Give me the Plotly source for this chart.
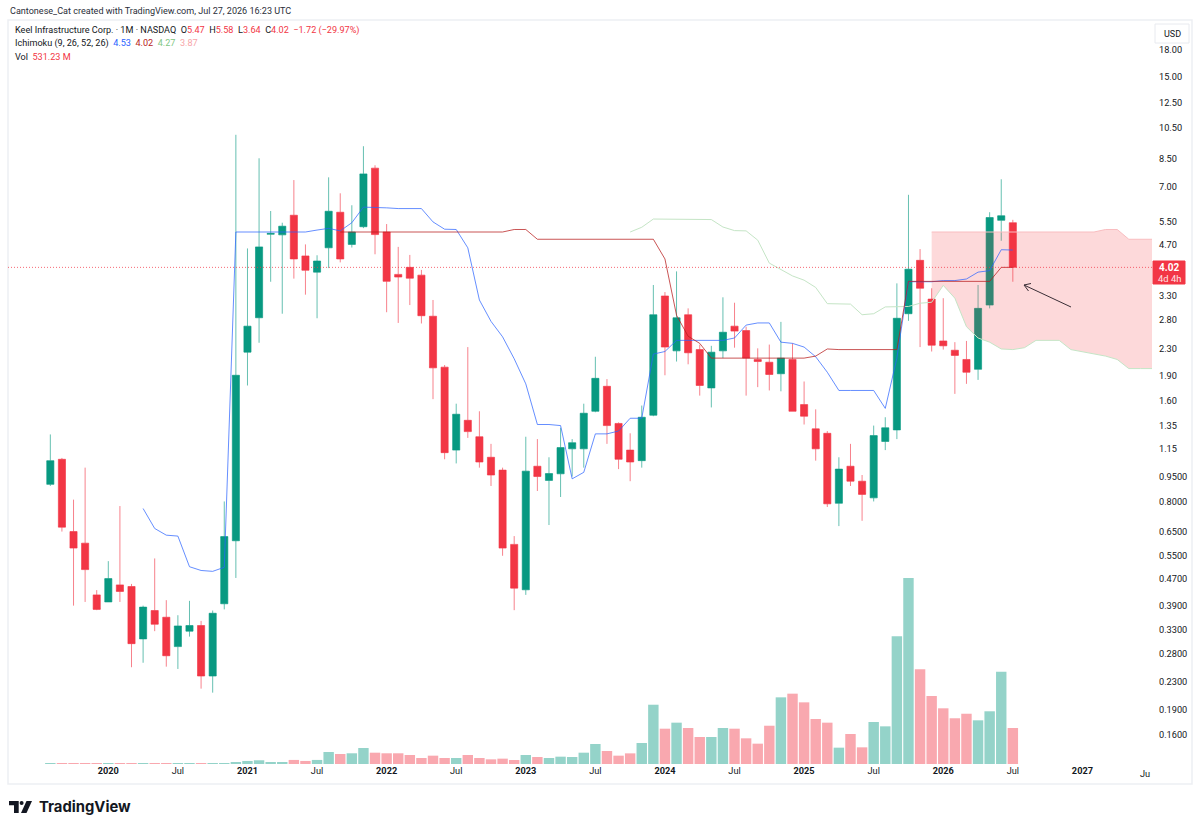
import pandas as pd
import plotly.graph_objects as go

# Monthly OHLC, Aug 2019 to Jul 2026
opens = [0.90, 1.07, 0.65, 0.60, 0.42, 0.40, 0.45, 0.445, 0.31, 0.377, 0.36, 0.294,
         0.327, 0.34, 0.24, 0.395, 0.61, 2.24, 2.84, 5.05, 5.03, 5.76, 4.35, 3.89,
         4.60, 5.88, 4.71, 5.32, 7.97, 5.13, 3.83, 4.02, 3.81, 2.87, 2.02, 1.14,
         1.40, 1.25, 1.085, 0.993, 0.595, 0.435, 1.02, 0.925, 0.968, 1.15, 1.15, 1.49,
         1.77, 1.37, 1.14, 1.06, 1.45, 3.30, 2.26, 2.90, 2.28, 1.75, 2.26, 2.68,
         2.60, 2.13, 2.09, 1.93, 2.13, 1.56, 1.32, 1.28, 0.79, 1.02, 0.92, 0.82,
         1.21, 1.31, 2.92, 4.22, 3.23, 2.42, 2.27, 2.13, 1.99, 3.10, 5.56, 5.47]
highs = [1.27, 1.08, 0.81, 1.01, 0.434, 0.53, 0.775, 0.453, 0.39, 0.54, 0.405, 0.365,
         0.403, 0.351, 0.377, 0.80, 10.03, 4.58, 8.53, 5.93, 5.47, 7.34, 4.71, 4.37,
         7.48, 6.70, 6.17, 9.27, 8.13, 5.42, 4.63, 4.38, 3.95, 3.21, 2.05, 1.57,
         2.32, 1.49, 1.19, 1.01, 0.63, 1.25, 1.23, 1.085, 1.33, 1.23, 1.57, 2.17,
         1.86, 1.38, 1.28, 1.55, 3.56, 3.39, 3.91, 3.03, 2.36, 2.34, 3.27, 3.15,
         2.67, 2.30, 2.36, 2.76, 2.38, 1.83, 1.51, 1.30, 1.085, 1.19, 0.96, 1.35,
         1.43, 3.60, 6.63, 4.56, 3.48, 3.25, 2.40, 2.42, 3.56, 5.88, 7.38, 5.58]
lows = [0.89, 0.65, 0.39, 0.40, 0.378, 0.40, 0.40, 0.255, 0.263, 0.327, 0.256, 0.252,
        0.315, 0.22, 0.214, 0.38, 0.472, 1.78, 2.39, 3.64, 2.92, 3.72, 3.33, 2.83,
        4.00, 4.16, 4.61, 5.27, 4.40, 2.95, 2.74, 3.10, 2.73, 1.62, 1.07, 1.04,
        1.24, 1.01, 0.89, 0.55, 0.378, 0.42, 0.86, 0.68, 0.825, 0.95, 1.01, 1.48,
        1.19, 1.00, 0.92, 1.01, 1.44, 1.91, 2.10, 2.06, 1.66, 1.53, 2.15, 2.31,
        1.66, 1.76, 1.72, 1.71, 1.49, 1.36, 1.06, 0.77, 0.675, 0.89, 0.70, 0.80,
        1.14, 1.23, 2.78, 2.32, 2.25, 2.28, 1.68, 1.80, 1.85, 3.03, 4.83, 3.64]
closes = [1.06, 0.67, 0.58, 0.50, 0.38, 0.47, 0.43, 0.30, 0.386, 0.343, 0.276, 0.339,
          0.34, 0.24, 0.37, 0.628, 1.91, 2.68, 4.63, 5.08, 5.34, 4.26, 3.94, 4.20,
          5.92, 4.26, 5.13, 7.66, 5.04, 3.65, 3.76, 3.73, 2.88, 2.01, 1.12, 1.46,
          1.295, 1.05, 0.96, 0.58, 0.44, 0.986, 0.95, 0.97, 1.16, 1.20, 1.47, 1.87,
          1.35, 1.07, 1.05, 1.43, 2.90, 2.32, 2.84, 2.23, 1.78, 2.24, 2.57, 2.59,
          2.15, 2.10, 1.92, 2.15, 1.49, 1.44, 1.15, 0.787, 1.00, 0.92, 0.84, 1.26,
          1.33, 2.83, 3.97, 3.48, 2.35, 2.34, 2.19, 1.95, 3.03, 5.67, 5.74, 4.02]

# Monthly volume, millions of shares
volumes = [10, 10, 10, 10, 10, 10, 10, 10, 10, 10, 10, 10,
           10, 10, 10, 10, 30, 45, 55, 30, 30, 60, 45, 60,
           177, 148, 158, 236, 167, 158, 158, 133, 89, 123, 89, 89,
           133, 89, 69, 79, 59, 133, 103, 89, 108, 103, 167, 295,
           192, 123, 157, 310, 875, 521, 610, 531, 399, 399, 531, 521,
           379, 300, 565, 984, 1038, 910, 664, 610, 241, 443, 246, 620,
           556, 1885, 2745, 1398, 1004, 822, 675, 742, 645, 778, 1362, 531.23]

# Ichimoku lines; the leading spans run past the last candle
conversion_start = 8
conversion = [0.762, 0.664, 0.634, 0.63, 0.51, 0.497, 0.494, 0.508, 5.13, 5.13, 5.13, 5.13,
              5.13, 5.13, 5.13, 5.20, 5.26, 5.17, 5.47, 6.09, 6.09, 6.06, 6.03, 6.03,
              6.03, 5.50, 5.23, 5.22, 4.60, 3.21, 2.77, 2.49, 2.14, 1.80, 1.36, 1.36,
              1.35, 0.935, 0.978, 1.275, 1.275, 1.30, 1.42, 1.42, 2.21, 2.25, 2.43, 2.43,
              2.43, 2.43, 2.43, 2.47, 2.70, 2.74, 2.74, 2.40, 2.38, 2.32, 2.17, 1.95,
              1.72, 1.72, 1.72, 1.72, 1.52, 2.15, 3.64, 3.64, 3.64, 3.67, 3.67, 3.71,
              3.89, 3.93, 4.54, 4.53]
base_start = 25
base = [5.13, 5.13, 5.13, 5.13, 5.13, 5.13, 5.13, 5.13, 5.13, 5.13, 5.13, 5.13, 5.13, 5.13, 5.13,
        5.22, 5.22, 4.88, 4.88, 4.88, 4.88, 4.88, 4.88, 4.88, 4.88, 4.88, 4.88, 4.88,
        4.26, 2.89, 2.50, 2.38, 2.15, 2.15, 2.15, 2.15, 2.15, 2.15, 2.15, 2.15, 2.15,
        2.18, 2.29, 2.28, 2.28, 2.28, 2.28, 2.28, 2.28,
        3.65, 3.65, 3.65, 3.65, 3.65, 3.65, 3.65, 3.65, 4.02, 4.02]
span_a_start = 50
span_a = [5.13, 5.30, 5.61, 5.61, 5.61, 5.61, 5.61, 5.59, 5.31, 5.18, 5.17, 4.85,
          4.14, 3.95, 3.79, 3.68, 3.50, 3.13, 3.12, 3.12, 2.90, 2.92, 3.06, 3.06,
          3.07, 3.14, 3.16, 3.55, 3.25, 2.67, 2.47, 2.40, 2.29, 2.28, 2.31, 2.43,
          2.43, 2.43, 2.28, 2.25, 2.21, 2.18, 2.13, 2.00, 2.00, 2.00]
span_b_start = 76
span_b = [5.13, 5.13, 5.13, 5.13, 5.13, 5.13, 5.13, 5.13, 5.13, 5.13, 5.13, 5.13, 5.13, 5.13, 5.13,
          5.22, 5.22, 4.88, 4.88, 4.88]

# Axis labels
price_ticks = [18, 15, 12.5, 10.5, 8.5, 7, 5.5, 4.7, 3.3, 2.8, 2.3, 1.9, 1.6, 1.35, 1.15,
               0.95, 0.8, 0.65, 0.55, 0.47, 0.39, 0.33, 0.28, 0.23, 0.19, 0.16]
price_labels = ["18.00", "15.00", "12.50", "10.50", "8.50", "7.00", "5.50", "4.70", "3.30",
                "2.80", "2.30", "1.90", "1.60", "1.35", "1.15", "0.9500", "0.8000", "0.6500",
                "0.5500", "0.4700", "0.3900", "0.3300", "0.2800", "0.2300", "0.1900", "0.1600"]
last_close = 4.02

UP = "#089981"
DOWN = "#F23645"
INK = "#131722"
FONT = "Roboto"

months = [str(p) for p in pd.period_range("2019-08", "2027-07", freq="M")]
candle_months = months[:len(closes)]
time_ticks = []
time_labels = []
for m in months:
    year, month = m.split("-")
    if month == "01":
        time_ticks.append(m)
        time_labels.append(f"<b>{year}</b>")
    elif month == "07" and m != months[-1]:
        time_ticks.append(m)
        time_labels.append("Jul")

# Pixel frame of the plot pane
W, H = 1200, 830
L, R, T, B = 8, 1152, 20, 764


def px(x):
    return (x - L) / (R - L)


def py(y):
    return (B - y) / (B - T)


fig = go.Figure()

fig.add_trace(go.Bar(
    x=candle_months, y=volumes, yaxis="y",
    marker=dict(color=[UP if c >= o else DOWN for o, c in zip(opens, closes)],
                opacity=0.43, line_width=0),
    showlegend=False,
))

fig.add_trace(go.Candlestick(
    x=candle_months, open=opens, high=highs, low=lows, close=closes, yaxis="y2",
    increasing=dict(fillcolor=UP, line=dict(color="rgba(8,153,129,0.62)", width=1)),
    decreasing=dict(fillcolor=DOWN, line=dict(color="rgba(242,54,69,0.62)", width=1)),
    whiskerwidth=0, showlegend=False,
))


def line_trace(start, values, color, width=1.0):
    return go.Scatter(x=months[start:start + len(values)], y=values, yaxis="y2", mode="lines",
                      line=dict(color=color, width=width), showlegend=False)


# Cloud band between the two leading spans, over the candles
offset = span_b_start - span_a_start
fig.add_trace(go.Scatter(x=months[span_b_start:span_b_start + len(span_b)], y=span_a[offset:],
                         yaxis="y2", mode="lines", line=dict(width=0), showlegend=False))
fig.add_trace(go.Scatter(x=months[span_b_start:span_b_start + len(span_b)], y=span_b,
                         yaxis="y2", mode="lines", line=dict(width=0), fill="tonexty",
                         fillcolor="rgba(242,54,60,0.19)", showlegend=False))
fig.add_trace(line_trace(span_a_start, span_a, "#C5E5C6"))
fig.add_trace(line_trace(span_b_start, span_b, "#F9BDC0"))
fig.add_trace(line_trace(conversion_start, conversion, "rgba(41,98,255,0.72)"))
fig.add_trace(line_trace(base_start, base, "rgba(183,28,28,0.75)"))

shapes = [
    # Last price line
    dict(type="line", xref="paper", yref="y2", x0=0, x1=1, y0=last_close, y1=last_close,
         line=dict(color="rgba(242,54,69,0.75)", width=1, dash="1px,2px")),
    # Pane frame
    dict(type="rect", xref="paper", yref="paper", x0=px(8), x1=px(1192), y0=py(20), y1=py(784),
         line=dict(color="#EDEFF3", width=1.5), layer="below"),
    # Hand-drawn arrow
    dict(type="path", xref="paper", yref="paper",
         path=(f"M {px(1071)} {py(307)} L {px(1024)} {py(285)} "
               f"M {px(1031)} {py(283.5)} L {px(1024)} {py(285)} L {px(1028.5)} {py(291)}"),
         line=dict(color="#3A2E36", width=1)),
    # Last price tag
    dict(type="rect", xref="paper", yref="paper", x0=px(1153), x1=px(1185), y0=py(261), y1=py(284),
         line=dict(color=DOWN, width=1), fillcolor=DOWN),
    # Currency button
    dict(type="rect", xref="paper", yref="paper", x0=px(1155), x1=px(1189), y0=py(24), y1=py(43),
         line=dict(color="#E8EAEF", width=1), fillcolor="white"),
    # Footer mark
    dict(type="path", xref="paper", yref="paper",
         path=(f"M {px(9)} {py(801)} L {px(18.7)} {py(801)} L {px(18.7)} {py(813)} L {px(14)} {py(813)} "
               f"L {px(14)} {py(805.3)} L {px(9)} {py(805.3)} Z"),
         fillcolor=INK, line_width=0),
    dict(type="circle", xref="paper", yref="paper", x0=px(19.6), x1=px(23.6), y0=py(801), y1=py(805),
         fillcolor=INK, line_width=0),
    dict(type="path", xref="paper", yref="paper",
         path=(f"M {px(26.5)} {py(801)} L {px(32)} {py(801)} L {px(26.5)} {py(813)} L {px(21)} {py(813)} Z"),
         fillcolor=INK, line_width=0),
]


def note(x, y, text, size=9.1, color=INK, anchor="left", family=FONT):
    return dict(xref="paper", yref="paper", x=px(x), y=py(y), text=text, showarrow=False,
                xanchor=anchor, yanchor="middle", align=anchor,
                font=dict(size=size, color=color, family=family))


def colored(text, color):
    return f'<span style="color:{color}">{text}</span>'


ohlc_line = ("Keel Infrastructure Corp. · 1M · NASDAQ  "
             f"O{colored('5.47', DOWN)}  H{colored('5.58', DOWN)}  "
             f"L{colored('3.64', DOWN)}  C{colored('4.02', DOWN)}  "
             + colored("−1.72 (−29.97%)", DOWN))
ichimoku_line = ("Ichimoku (9, 26, 52, 26)  " + colored("4.53", "#2962FF") + "  "
                 + colored("4.02", "#B71C1C") + "  " + colored("4.27", "#81C784") + "  "
                 + colored("3.87", "#F7A5A9"))
vol_line = "Vol  " + colored("531.23 M", DOWN)

annotations = [
    note(7.5, 11, "Cantonese_Cat created with TradingView.com, Jul 27, 2026 16:23 UTC", size=9.05, color="#2A2E39"),
    note(13, 31, ohlc_line),
    note(13, 44, ichimoku_line),
    note(13, 57, vol_line),
    note(1172, 33.5, "USD", size=9, anchor="center"),
    note(1168.5, 267.5, "<b>4.02</b>", size=10, color="white", anchor="center"),
    note(1169.5, 278, "4d 4h", size=9.4, color="#FFE3E5", anchor="center"),
    note(1151.5, 773.5, "Ju", size=9.2, anchor="right"),
    note(37, 807, "<b>TradingView</b>", size=14.8, family="Inter"),
]

fig.update_layout(
    width=W, height=H, autosize=False,
    paper_bgcolor="white", plot_bgcolor="white",
    margin=dict(l=L, r=W - R, t=T, b=H - B),
    boxgap=0.12, bargap=0.1,
    showlegend=False,
    hovermode=False,
    font=dict(family=FONT, size=9, color=INK),
    xaxis=dict(type="category", categoryorder="array", categoryarray=months,
               range=[-3.65, 95.0], rangeslider=dict(visible=False), showgrid=False,
               zeroline=False, showline=False, ticks="", tickmode="array",
               tickvals=time_ticks, ticktext=time_labels, tickangle=0,
               tickfont=dict(size=9.2, color=INK, family=FONT)),
    yaxis=dict(range=[0, 10981], visible=False, fixedrange=True),
    yaxis2=dict(type="log", overlaying="y", side="right", anchor="x",
                range=[-0.88329, 1.34513], showgrid=False, zeroline=False, showline=False,
                ticks="", tickmode="array", tickvals=price_ticks, ticktext=price_labels,
                tickfont=dict(size=9.2, color=INK, family=FONT), ticklabelstandoff=6),
    shapes=shapes,
    annotations=annotations,
)

fig.write_html("out.html")
